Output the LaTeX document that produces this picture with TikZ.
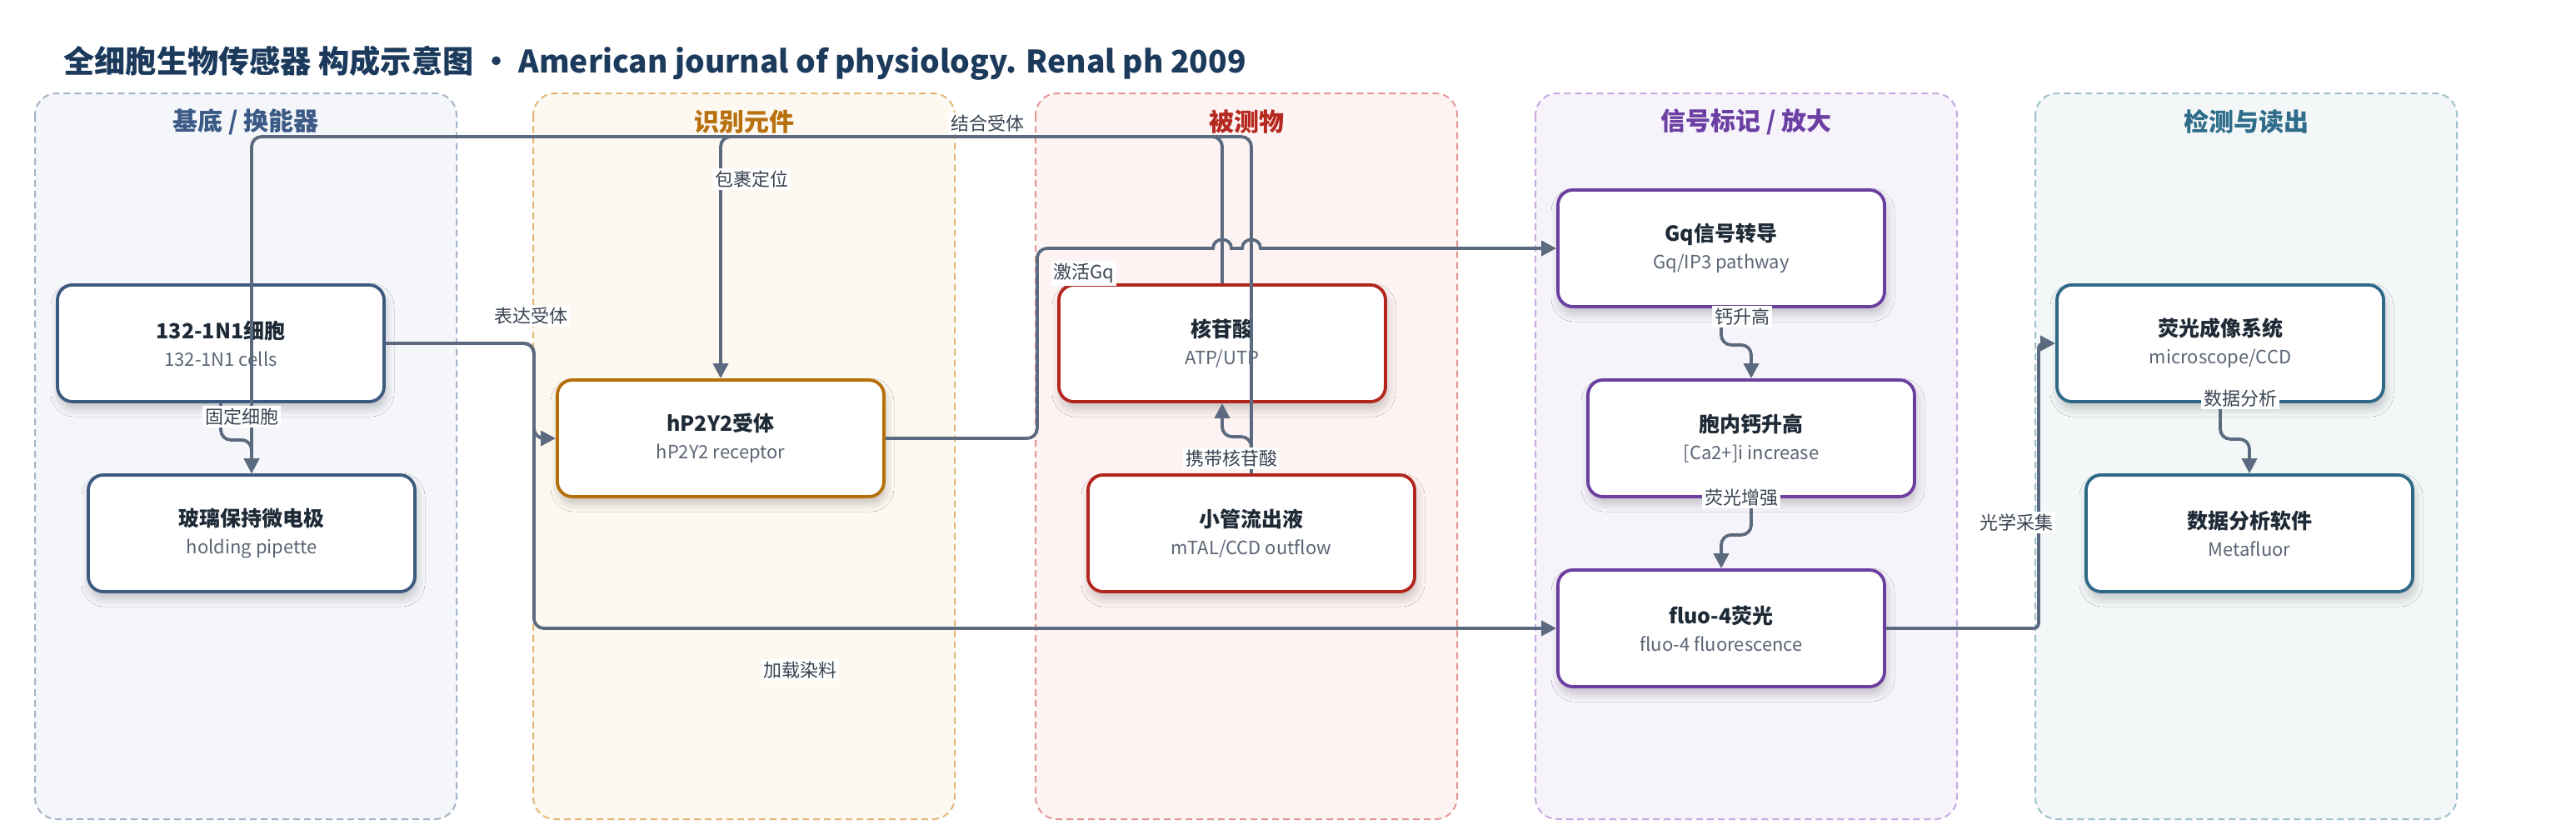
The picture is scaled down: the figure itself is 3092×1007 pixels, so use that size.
\documentclass[tikz,border=0pt]{standalone}
\usepackage{fontspec}
\setmainfont{Noto Sans CJK SC}
\usetikzlibrary{arrows.meta,shadows.blur,calc}

\definecolor{edgec}{HTML}{5B6A7E}
\definecolor{labc}{HTML}{3A4452}
\definecolor{titc}{HTML}{1F2A37}
\definecolor{subc}{HTML}{5B6574}
\definecolor{headc}{HTML}{1B3A5C}
% panel colours: text, dash, fill, node border
\definecolor{aT}{HTML}{3B5A85}\definecolor{aD}{HTML}{A3B3C8}\definecolor{aF}{HTML}{F4F6FA}\definecolor{aB}{HTML}{3D5A80}
\definecolor{bT}{HTML}{B8710E}\definecolor{bD}{HTML}{E3B676}\definecolor{bF}{HTML}{FDF8F0}\definecolor{bB}{HTML}{B5700B}
\definecolor{cT}{HTML}{B5281F}\definecolor{cD}{HTML}{E39793}\definecolor{cF}{HTML}{FDF3F2}\definecolor{cB}{HTML}{B3261E}
\definecolor{dT}{HTML}{6C3FA3}\definecolor{dD}{HTML}{C6A9E0}\definecolor{dF}{HTML}{F7F3FB}\definecolor{dB}{HTML}{6B3FA0}
\definecolor{eT}{HTML}{2F6D8A}\definecolor{eD}{HTML}{9DC0CC}\definecolor{eF}{HTML}{F3F7F8}\definecolor{eB}{HTML}{2E6A88}

\begin{document}
\begin{tikzpicture}[x=0.5pt,y=-0.5pt,
  panelbox/.style 2 args={draw=#1, fill=#2, line width=1pt, dash pattern=on 4pt off 2.5pt, rounded corners=13pt},
  ptitle/.style={font=\fontsize{15pt}{18pt}\selectfont\bfseries, text=#1},
  nbox/.style={draw=#1, line width=1.9pt, fill=white, rounded corners=9pt,
    minimum width=196pt, minimum height=70pt, align=center, inner sep=0pt,
    blur shadow={shadow xshift=1pt, shadow yshift=-4pt, shadow blur radius=5pt, shadow blur steps=8, shadow opacity=22},
    font=\fontsize{11pt}{16.5pt}\selectfont, text=subc},
  conn/.style={draw=edgec, line width=1.9pt, rounded corners=6pt, -{Triangle[length=9pt,width=9pt]}},
  elabel/.style={fill=white, inner sep=1.5pt, font=\fontsize{11pt}{13pt}\selectfont, text=labc},
]
\useasboundingbox (0,0) rectangle (3092,1007);
\fill[white] (0,0) rectangle (3092,1007);

% title
\node[anchor=west, inner sep=0pt, text=headc, font=\fontsize{18.6pt}{22pt}\selectfont\bfseries] (title) at (76,76)
  {全细胞生物传感器 构成示意图 · American journal of physiology. Renal ph 2009};

% panels
\path[panelbox={aD}{aF}] (42,112) rectangle (548,983);
\path[panelbox={bD}{bF}] (640,112) rectangle (1146,983);
\path[panelbox={cD}{cF}] (1243,112) rectangle (1749,983);
\path[panelbox={dD}{dF}] (1843,112) rectangle (2349,983);
\path[panelbox={eD}{eF}] (2443,112) rectangle (2949,983);

\node[ptitle=aT] (t1) at (295,146) {基底 / 换能器};
\node[ptitle=bT] (t2) at (893,146) {识别元件};
\node[ptitle=cT] (t3) at (1496,146) {被测物};
\node[ptitle=dT] (t4) at (2096,146) {信号标记 / 放大};
\node[ptitle=eT] (t5) at (2696,146) {检测与读出};

% nodes
\newcommand{\ttl}[1]{{\fontsize{12.5pt}{16.5pt}\selectfont\bfseries\color{titc}#1}}
\node[nbox=aB] (cells) at (265,412) {\ttl{132-1N1细胞}\\132-1N1 cells};
\node[nbox=aB] (pip) at (302,640) {\ttl{玻璃保持微电极}\\holding pipette};
\node[nbox=bB] (rec) at (865,526) {\ttl{hP2Y2受体}\\hP2Y2 receptor};
\node[nbox=cB] (nuc) at (1467,412) {\ttl{核苷酸}\\ATP/UTP};
\node[nbox=cB] (tub) at (1502,640) {\ttl{小管流出液}\\mTAL/CCD outflow};
\node[nbox=dB] (gq) at (2066,298) {\ttl{Gq信号转导}\\Gq/IP3 pathway};
\node[nbox=dB] (ca) at (2102,526) {\ttl{胞内钙升高}\\{[Ca2+]i increase}};
\node[nbox=dB] (fluo) at (2066,754) {\ttl{fluo-4荧光}\\fluo-4 fluorescence};
\node[nbox=eB] (img) at (2665,412) {\ttl{荧光成像系统}\\microscope/CCD};
\node[nbox=eB] (soft) at (2700,640) {\ttl{数据分析软件}\\Metafluor};

% connectors
\coordinate (topy) at (0,164);
\draw[conn] (cells.south) -- ++(0,44) -| (pip.north);
\draw[conn] (cells.east) -- ++(178,0) |- (rec.west);
\draw[conn] (cells.east) -- ++(178,0) |- (fluo.west);
\draw[conn] (tub.north) -- (tub.north |- topy) -| (pip.north);
\draw[conn] (nuc.north) -- (nuc.north |- topy) -| (rec.north);
\draw[conn] (tub.north) -- ++(0,-44) -| (nuc.south);
\coordinate (h1) at (nuc.north |- gq.west);
\coordinate (h2) at (tub.north |- gq.west);
\draw[conn] (rec.east) -- ++(182,0) |- ($(h1)+(-60,0)$) [sharp corners]
  -- ($(h1)+(-11,0)$) .. controls ($(h1)+(-11,-14)$) and ($(h1)+(11,-14)$) .. ($(h1)+(11,0)$)
  -- ($(h2)+(-11,0)$) .. controls ($(h2)+(-11,-14)$) and ($(h2)+(11,-14)$) .. ($(h2)+(11,0)$)
  -- (gq.west);
\draw[conn] (gq.south) -- ++(0,44) -| (ca.north);
\draw[conn] (ca.south) -- ++(0,44) -| (fluo.north);
\draw[conn, rounded corners=3pt] (fluo.east) -- ++(183,0) |- (img.west);
\draw[conn] (img.south) -- ++(0,43) -| (soft.north);

% connector labels
\node[elabel] (l1) at (290,500) {固定细胞};
\node[elabel] (l2) at (637,379) {表达受体};
\node[elabel] (l3) at (902,215) {包裹定位};
\node[elabel] (l4) at (1185,148) {结合受体};
\node[elabel] (l5) at (1301,328) {激活Gq};
\node[elabel] (l6) at (1478,550) {携带核苷酸};
\node[elabel] (l7) at (960,804) {加载染料};
\node[elabel] (l8) at (2091,380) {钙升高};
\node[elabel] (l9) at (2090,597) {荧光增强};
\node[elabel] (l10) at (2420,627) {光学采集};
\node[elabel] (l11) at (2689,478) {数据分析};
\end{tikzpicture}
\end{document}
